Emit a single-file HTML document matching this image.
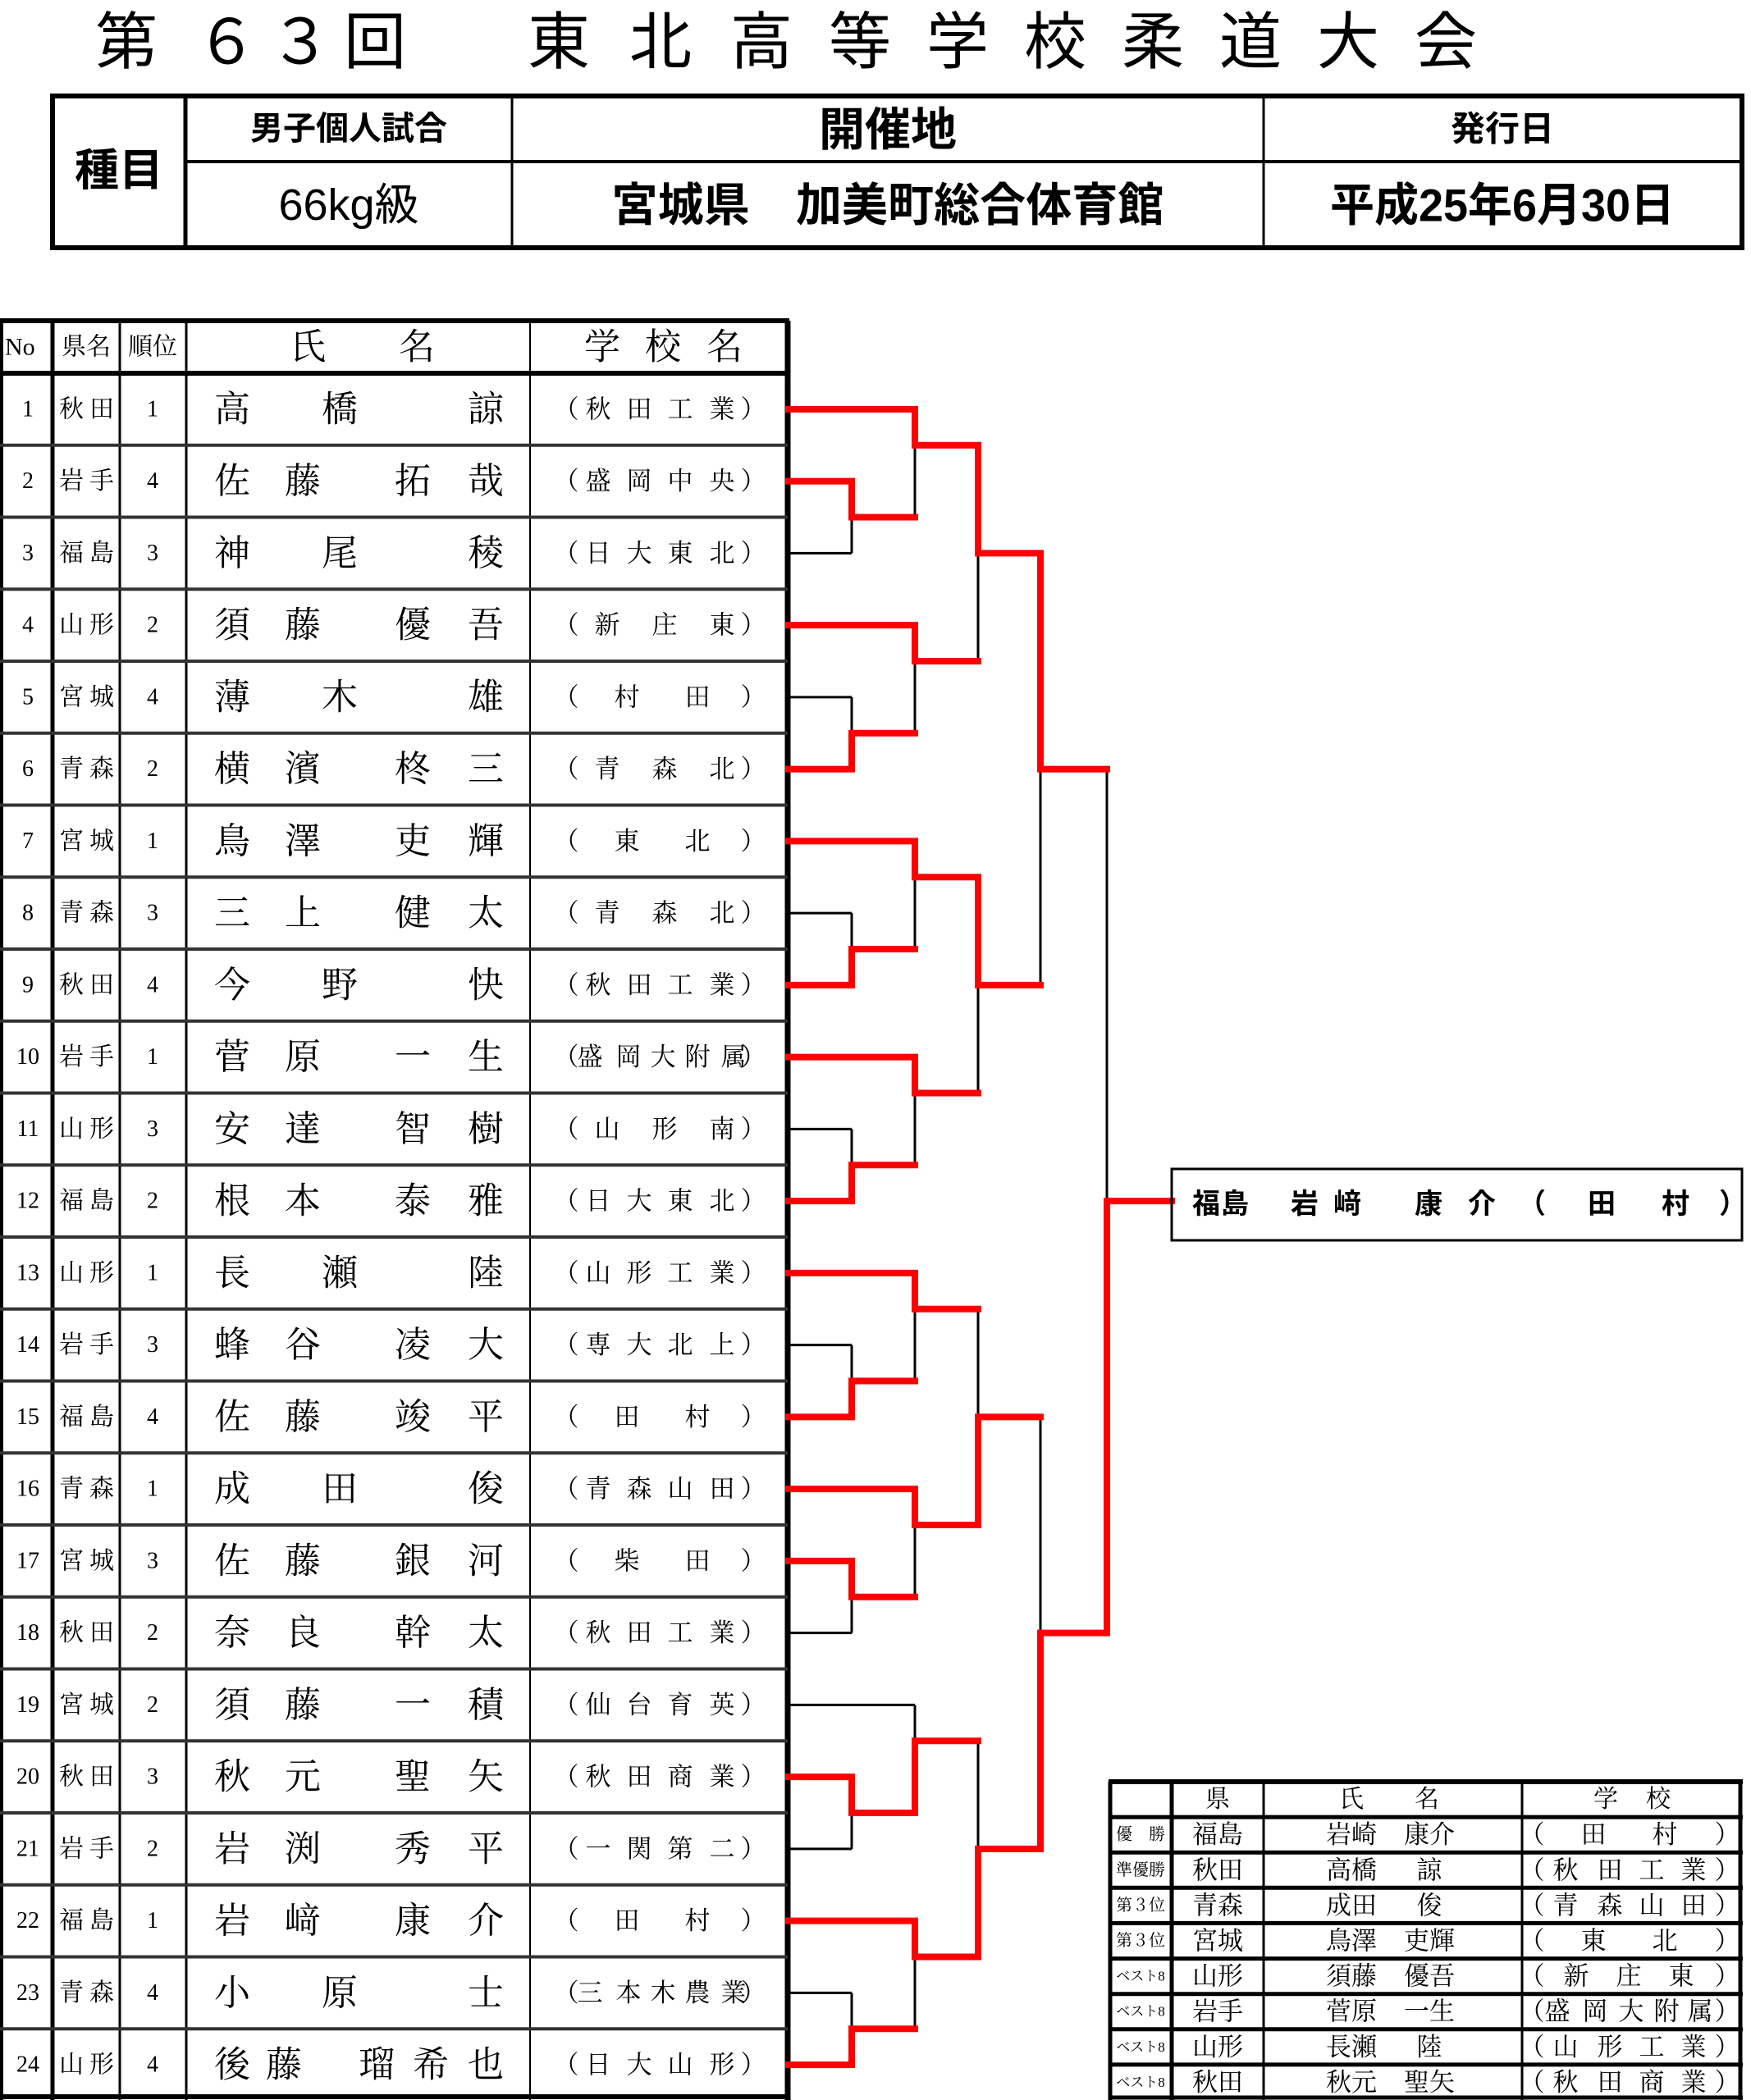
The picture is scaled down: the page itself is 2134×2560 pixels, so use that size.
<!DOCTYPE html>
<html><head><meta charset="utf-8">
<style>
html,body{margin:0;padding:0;background:#fff;}
svg{display:block;}
.s{font-family:"Liberation Serif","Noto Serif CJK SC","Noto Sans CJK JP",serif;}
.g{font-family:"Liberation Sans","Noto Sans CJK JP",sans-serif;}
</style></head><body>
<svg width="2134" height="2560" viewBox="0 0 2134 2560" xmlns="http://www.w3.org/2000/svg">
<rect width="2134" height="2560" fill="#fff"/>
<!-- Title -->
<g class="g" font-size="76" fill="#000" dominant-baseline="central">
<text x="116 238 328 419 643 767 890 1010 1129 1248 1367 1486 1605 1724" y="52">第６３回東北高等学校柔道大会</text>
</g>
<!-- Header info table -->
<g stroke="#000" fill="none">
<rect x="64" y="117" width="2059" height="185" stroke-width="6"/>
<line x1="226" y1="117" x2="226" y2="302" stroke-width="5"/>
<line x1="624" y1="117" x2="624" y2="302" stroke-width="3"/>
<line x1="1540" y1="117" x2="1540" y2="302" stroke-width="3"/>
<line x1="226" y1="197" x2="2123" y2="197" stroke-width="4"/>
</g>
<g class="g" font-weight="bold" fill="#000" text-anchor="middle" dominant-baseline="central">
<text x="145" y="208" font-size="54">種目</text>
<text x="425" y="157" font-size="40">男子個人試合</text>
<text x="425" y="250" font-size="54" font-weight="normal">66kg級</text>
<text x="1082" y="158" font-size="56">開催地</text>
<text x="1082" y="250" font-size="56" textLength="673" lengthAdjust="spacingAndGlyphs">宮城県　加美町総合体育館</text>
<text x="1831" y="157" font-size="42">発行日</text>
<text x="1831" y="250" font-size="56" textLength="420" lengthAdjust="spacingAndGlyphs">平成25年6月30日</text>
</g>
<!-- Left table lines -->
<g stroke="#000" fill="none">
<line x1="0" y1="391" x2="962" y2="391" stroke-width="6"/>
<line x1="0" y1="455" x2="962" y2="455" stroke-width="6"/>
<line x1="2" y1="391" x2="2" y2="2560" stroke-width="4"/>
<line x1="64" y1="391" x2="64" y2="2560" stroke-width="5"/>
<line x1="146" y1="391" x2="146" y2="2560" stroke-width="3"/>
<line x1="227" y1="391" x2="227" y2="2560" stroke-width="3"/>
<line x1="646" y1="391" x2="646" y2="2560" stroke-width="2"/>
<line x1="960" y1="391" x2="960" y2="2560" stroke-width="7"/>
<line x1="0" y1="2556" x2="962" y2="2556" stroke-width="6"/>
<g stroke-width="4" stroke="#333">
<line x1="0" y1="542.75" x2="960" y2="542.75"/><line x1="0" y1="630.5" x2="960" y2="630.5"/><line x1="0" y1="718.25" x2="960" y2="718.25"/><line x1="0" y1="806" x2="960" y2="806"/><line x1="0" y1="893.75" x2="960" y2="893.75"/><line x1="0" y1="981.5" x2="960" y2="981.5"/><line x1="0" y1="1069.25" x2="960" y2="1069.25"/><line x1="0" y1="1157" x2="960" y2="1157"/><line x1="0" y1="1244.75" x2="960" y2="1244.75"/><line x1="0" y1="1332.5" x2="960" y2="1332.5"/><line x1="0" y1="1420.25" x2="960" y2="1420.25"/><line x1="0" y1="1508" x2="960" y2="1508"/><line x1="0" y1="1595.75" x2="960" y2="1595.75"/><line x1="0" y1="1683.5" x2="960" y2="1683.5"/><line x1="0" y1="1771.25" x2="960" y2="1771.25"/><line x1="0" y1="1859" x2="960" y2="1859"/><line x1="0" y1="1946.75" x2="960" y2="1946.75"/><line x1="0" y1="2034.5" x2="960" y2="2034.5"/><line x1="0" y1="2122.25" x2="960" y2="2122.25"/><line x1="0" y1="2210" x2="960" y2="2210"/><line x1="0" y1="2297.75" x2="960" y2="2297.75"/><line x1="0" y1="2385.5" x2="960" y2="2385.5"/><line x1="0" y1="2473.25" x2="960" y2="2473.25"/>
</g>
</g>
<!-- Left table header text -->
<g class="s" fill="#000" dominant-baseline="central">
<text x="6" y="423" font-size="30">No</text>
<text x="105" y="423" font-size="30" text-anchor="middle">県名</text>
<text x="186" y="423" font-size="30" text-anchor="middle">順位</text>
<text x="375 508" y="423" font-size="44" text-anchor="middle">氏名</text>
<text x="734 808 883" y="423" font-size="44" text-anchor="middle">学校名</text>
</g>
<!-- Rows -->
<g class="s" fill="#000" dominant-baseline="central">
<g font-size="28" text-anchor="middle">
<text x="34" y="498.9">1</text><text x="34" y="586.6">2</text><text x="34" y="674.4">3</text><text x="34" y="762.1">4</text><text x="34" y="849.9">5</text><text x="34" y="937.6">6</text><text x="34" y="1025.4">7</text><text x="34" y="1113.1">8</text><text x="34" y="1200.9">9</text><text x="34" y="1288.6">10</text><text x="34" y="1376.4">11</text><text x="34" y="1464.1">12</text><text x="34" y="1551.9">13</text><text x="34" y="1639.6">14</text><text x="34" y="1727.4">15</text><text x="34" y="1815.1">16</text><text x="34" y="1902.9">17</text><text x="34" y="1990.6">18</text><text x="34" y="2078.4">19</text><text x="34" y="2166.1">20</text><text x="34" y="2253.9">21</text><text x="34" y="2341.6">22</text><text x="34" y="2429.4">23</text><text x="34" y="2517.1">24</text>
<text x="186" y="498.9">1</text><text x="186" y="586.6">4</text><text x="186" y="674.4">3</text><text x="186" y="762.1">2</text><text x="186" y="849.9">4</text><text x="186" y="937.6">2</text><text x="186" y="1025.4">1</text><text x="186" y="1113.1">3</text><text x="186" y="1200.9">4</text><text x="186" y="1288.6">1</text><text x="186" y="1376.4">3</text><text x="186" y="1464.1">2</text><text x="186" y="1551.9">1</text><text x="186" y="1639.6">3</text><text x="186" y="1727.4">4</text><text x="186" y="1815.1">1</text><text x="186" y="1902.9">3</text><text x="186" y="1990.6">2</text><text x="186" y="2078.4">2</text><text x="186" y="2166.1">3</text><text x="186" y="2253.9">2</text><text x="186" y="2341.6">1</text><text x="186" y="2429.4">4</text><text x="186" y="2517.1">4</text>
</g>
<g font-size="30" text-anchor="middle">
<text x="87 124" y="498.9">秋田</text><text x="87 124" y="586.6">岩手</text><text x="87 124" y="674.4">福島</text><text x="87 124" y="762.1">山形</text><text x="87 124" y="849.9">宮城</text><text x="87 124" y="937.6">青森</text><text x="87 124" y="1025.4">宮城</text><text x="87 124" y="1113.1">青森</text><text x="87 124" y="1200.9">秋田</text><text x="87 124" y="1288.6">岩手</text><text x="87 124" y="1376.4">山形</text><text x="87 124" y="1464.1">福島</text><text x="87 124" y="1551.9">山形</text><text x="87 124" y="1639.6">岩手</text><text x="87 124" y="1727.4">福島</text><text x="87 124" y="1815.1">青森</text><text x="87 124" y="1902.9">宮城</text><text x="87 124" y="1990.6">秋田</text><text x="87 124" y="2078.4">宮城</text><text x="87 124" y="2166.1">秋田</text><text x="87 124" y="2253.9">岩手</text><text x="87 124" y="2341.6">福島</text><text x="87 124" y="2429.4">青森</text><text x="87 124" y="2517.1">山形</text>
</g>
<g font-size="44">
<text x="261 392 570" y="498.9">高橋諒</text>
<text x="261 347 481 570" y="586.6">佐藤拓哉</text>
<text x="261 392 570" y="674.4">神尾稜</text>
<text x="261 347 481 570" y="762.1">須藤優吾</text>
<text x="261 392 570" y="849.9">薄木雄</text>
<text x="261 347 481 570" y="937.6">横濱柊三</text>
<text x="261 347 481 570" y="1025.4">鳥澤吏輝</text>
<text x="261 347 481 570" y="1113.1">三上健太</text>
<text x="261 392 570" y="1200.9">今野快</text>
<text x="261 347 481 570" y="1288.6">菅原一生</text>
<text x="261 347 481 570" y="1376.4">安達智樹</text>
<text x="261 347 481 570" y="1464.1">根本泰雅</text>
<text x="261 392 570" y="1551.9">長瀬陸</text>
<text x="261 347 481 570" y="1639.6">蜂谷凌大</text>
<text x="261 347 481 570" y="1727.4">佐藤竣平</text>
<text x="261 392 570" y="1815.1">成田俊</text>
<text x="261 347 481 570" y="1902.9">佐藤銀河</text>
<text x="261 347 481 570" y="1990.6">奈良幹太</text>
<text x="261 347 481 570" y="2078.4">須藤一積</text>
<text x="261 347 481 570" y="2166.1">秋元聖矢</text>
<text x="261 347 481 570" y="2253.9">岩渕秀平</text>
<text x="261 347 481 570" y="2341.6">岩﨑康介</text>
<text x="261 392 570" y="2429.4">小原士</text>
<text x="261 324 437 503 570" y="2517.1">後藤瑠希也</text>
</g>
<g font-size="31" text-anchor="middle">
<text x="690 729 779 829 880 918" y="498.9">（秋田工業）</text>
<text x="690 729 779 829 880 918" y="586.6">（盛岡中央）</text>
<text x="690 729 779 829 880 918" y="674.4">（日大東北）</text>
<text x="690 740 810 880 918" y="762.1">（新庄東）</text>
<text x="690 764 850 918" y="849.9">（村田）</text>
<text x="690 740 810 880 918" y="937.6">（青森北）</text>
<text x="690 764 850 918" y="1025.4">（東北）</text>
<text x="690 740 810 880 918" y="1113.1">（青森北）</text>
<text x="690 729 779 829 880 918" y="1200.9">（秋田工業）</text>
<text x="690 719 766 808 850 894 918" y="1288.6">（盛岡大附属）</text>
<text x="690 740 810 880 918" y="1376.4">（山形南）</text>
<text x="690 729 779 829 880 918" y="1464.1">（日大東北）</text>
<text x="690 729 779 829 880 918" y="1551.9">（山形工業）</text>
<text x="690 729 779 829 880 918" y="1639.6">（専大北上）</text>
<text x="690 764 850 918" y="1727.4">（田村）</text>
<text x="690 729 779 829 880 918" y="1815.1">（青森山田）</text>
<text x="690 764 850 918" y="1902.9">（柴田）</text>
<text x="690 729 779 829 880 918" y="1990.6">（秋田工業）</text>
<text x="690 729 779 829 880 918" y="2078.4">（仙台育英）</text>
<text x="690 729 779 829 880 918" y="2166.1">（秋田商業）</text>
<text x="690 729 779 829 880 918" y="2253.9">（一関第二）</text>
<text x="690 764 850 918" y="2341.6">（田村）</text>
<text x="690 719 766 808 850 894 918" y="2429.4">（三本木農業）</text>
<text x="690 729 779 829 880 918" y="2517.1">（日大山形）</text>
</g>
</g>
<!-- Bracket black lines -->
<g stroke="#000" stroke-width="3" fill="none">
<line x1="961" y1="674.4" x2="1038" y2="674.4"/><line x1="1038" y1="630.5" x2="1038" y2="674.4"/><line x1="1115" y1="542.75" x2="1115" y2="630.5"/>
<line x1="961" y1="849.9" x2="1038" y2="849.9"/><line x1="1038" y1="849.9" x2="1038" y2="893.75"/><line x1="1115" y1="806" x2="1115" y2="893.75"/>
<line x1="1192" y1="674.4" x2="1192" y2="806"/>
<line x1="961" y1="1113.1" x2="1038" y2="1113.1"/><line x1="1038" y1="1113.1" x2="1038" y2="1157"/><line x1="1115" y1="1069.25" x2="1115" y2="1157"/>
<line x1="961" y1="1376.4" x2="1038" y2="1376.4"/><line x1="1038" y1="1376.4" x2="1038" y2="1420.25"/><line x1="1115" y1="1332.5" x2="1115" y2="1420.25"/>
<line x1="1192" y1="1200.9" x2="1192" y2="1332.5"/>
<line x1="1268" y1="937.6" x2="1268" y2="1200.9"/>
<line x1="961" y1="1639.6" x2="1038" y2="1639.6"/><line x1="1038" y1="1639.6" x2="1038" y2="1683.5"/><line x1="1115" y1="1595.75" x2="1115" y2="1683.5"/>
<line x1="961" y1="1990.6" x2="1038" y2="1990.6"/><line x1="1038" y1="1946.75" x2="1038" y2="1990.6"/><line x1="1115" y1="1859" x2="1115" y2="1946.75"/>
<line x1="1192" y1="1595.75" x2="1192" y2="1727.4"/>
<line x1="961" y1="2078.4" x2="1115" y2="2078.4"/><line x1="961" y1="2253.9" x2="1038" y2="2253.9"/><line x1="1038" y1="2210" x2="1038" y2="2253.9"/><line x1="1115" y1="2078.4" x2="1115" y2="2122.25"/>
<line x1="961" y1="2429.4" x2="1038" y2="2429.4"/><line x1="1038" y1="2429.4" x2="1038" y2="2473.25"/><line x1="1115" y1="2385.5" x2="1115" y2="2473.25"/>
<line x1="1192" y1="2122.25" x2="1192" y2="2253.9"/>
<line x1="1268" y1="1727.4" x2="1268" y2="1990.6"/>
<line x1="1349" y1="937.6" x2="1349" y2="1464.1"/>
</g>
<!-- Bracket red lines -->
<g stroke="#ff0000" stroke-width="8" fill="none" stroke-linecap="square" stroke-linejoin="miter">
<polyline points="961,498.9 1115,498.9 1115,542.75 1192,542.75 1192,674.4 1268,674.4 1268,937.6 1349,937.6"/>
<polyline points="961,586.6 1038,586.6 1038,630.5 1115,630.5"/>
<polyline points="961,762.1 1115,762.1 1115,806 1192,806"/>
<polyline points="961,937.6 1038,937.6 1038,893.75 1115,893.75"/>
<polyline points="961,1025.4 1115,1025.4 1115,1069.25 1192,1069.25 1192,1200.9 1268,1200.9"/>
<polyline points="961,1200.9 1038,1200.9 1038,1157 1115,1157"/>
<polyline points="961,1288.6 1115,1288.6 1115,1332.5 1192,1332.5"/>
<polyline points="961,1464.1 1038,1464.1 1038,1420.25 1115,1420.25"/>
<polyline points="961,1551.9 1115,1551.9 1115,1595.75 1192,1595.75"/>
<polyline points="961,1727.4 1038,1727.4 1038,1683.5 1115,1683.5"/>
<polyline points="961,1815.1 1115,1815.1 1115,1859 1192,1859 1192,1727.4 1268,1727.4"/>
<polyline points="961,1902.9 1038,1902.9 1038,1946.75 1115,1946.75"/>
<polyline points="961,2166.1 1038,2166.1 1038,2210 1115,2210 1115,2122.25 1192,2122.25"/>
<polyline points="961,2341.6 1115,2341.6 1115,2385.5 1192,2385.5 1192,2253.9 1268,2253.9 1268,1990.6 1349,1990.6 1349,1464.1 1428,1464.1"/>
<polyline points="961,2517.1 1038,2517.1 1038,2473.25 1115,2473.25"/>
</g>
<!-- Winner box -->
<rect x="1428" y="1425" width="695" height="87" fill="none" stroke="#000" stroke-width="3"/>
<g class="g" font-weight="bold" font-size="34" fill="#000" dominant-baseline="central">
<text x="1453 1488 1573 1625 1724 1789 1850 1935 2025 2095" y="1468">福島岩﨑康介（田村）</text>
</g>
<!-- Results table -->
<g stroke="#000" fill="none">
<rect x="1352" y="2172" width="2771" height="0" stroke-width="0"/>
<line x1="1351" y1="2172" x2="2124" y2="2172" stroke-width="6"/>
<line x1="1353" y1="2172" x2="1353" y2="2560" stroke-width="5"/>
<line x1="2121" y1="2172" x2="2121" y2="2560" stroke-width="5"/>
<line x1="1428" y1="2172" x2="1428" y2="2560" stroke-width="5"/>
<line x1="1540" y1="2172" x2="1540" y2="2560" stroke-width="3"/>
<line x1="1855" y1="2172" x2="1855" y2="2560" stroke-width="3"/>
<g stroke-width="5">
<line x1="1351" y1="2215.1" x2="2124" y2="2215.1"/><line x1="1351" y1="2258.2" x2="2124" y2="2258.2"/><line x1="1351" y1="2301.3" x2="2124" y2="2301.3"/><line x1="1351" y1="2344.4" x2="2124" y2="2344.4"/><line x1="1351" y1="2387.6" x2="2124" y2="2387.6"/><line x1="1351" y1="2430.7" x2="2124" y2="2430.7"/><line x1="1351" y1="2473.8" x2="2124" y2="2473.8"/><line x1="1351" y1="2516.9" x2="2124" y2="2516.9"/><line x1="1351" y1="2557" x2="2124" y2="2557"/>
</g>
</g>
<g class="s" fill="#000" dominant-baseline="central" text-anchor="middle">
<g font-size="30">
<text x="1484" y="2193.6">県</text>
<text x="1647 1739" y="2193.6">氏名</text>
<text x="1957 2021" y="2193.6">学校</text>
</g>
<g font-size="20">
<text x="1370 1410" y="2236.7">優勝</text>
<text x="1390" y="2279.8">準優勝</text>
<text x="1390" y="2322.9">第３位</text>
<text x="1390" y="2366">第３位</text>
<text x="1390" y="2409.1" font-size="17">ベスト8</text>
<text x="1390" y="2452.2" font-size="17">ベスト8</text>
<text x="1390" y="2495.3" font-size="17">ベスト8</text>
<text x="1390" y="2538.4" font-size="17">ベスト8</text>
</g>
<g font-size="31">
<text x="1484" y="2236.7">福島</text><text x="1484" y="2279.8">秋田</text><text x="1484" y="2322.9">青森</text><text x="1484" y="2366">宮城</text><text x="1484" y="2409.1">山形</text><text x="1484" y="2452.2">岩手</text><text x="1484" y="2495.3">山形</text><text x="1484" y="2538.4">秋田</text>
<text x="1647" y="2236.7">岩崎</text><text x="1742" y="2236.7">康介</text>
<text x="1647" y="2279.8">高橋</text><text x="1742" y="2279.8">諒</text>
<text x="1647" y="2322.9">成田</text><text x="1742" y="2322.9">俊</text>
<text x="1647" y="2366">鳥澤</text><text x="1742" y="2366">吏輝</text>
<text x="1647" y="2409.1">須藤</text><text x="1742" y="2409.1">優吾</text>
<text x="1647" y="2452.2">菅原</text><text x="1742" y="2452.2">一生</text>
<text x="1647" y="2495.3">長瀬</text><text x="1742" y="2495.3">陸</text>
<text x="1647" y="2538.4">秋元</text><text x="1742" y="2538.4">聖矢</text>
<text x="1867 1942 2029 2105" y="2236.7">（田村）</text>
<text x="1867 1908 1962 2013 2064 2105" y="2279.8">（秋田工業）</text>
<text x="1867 1908 1962 2013 2064 2105" y="2322.9">（青森山田）</text>
<text x="1867 1942 2029 2105" y="2366">（東北）</text>
<text x="1867 1921 1985 2049 2105" y="2409.1">（新庄東）</text>
<text x="1867 1898 1944 1988 2031 2072 2105" y="2452.2">（盛岡大附属）</text>
<text x="1867 1908 1962 2013 2064 2105" y="2495.3">（山形工業）</text>
<text x="1867 1908 1962 2013 2064 2105" y="2538.4">（秋田商業）</text>
</g>
</g>
</svg>
</body></html>
